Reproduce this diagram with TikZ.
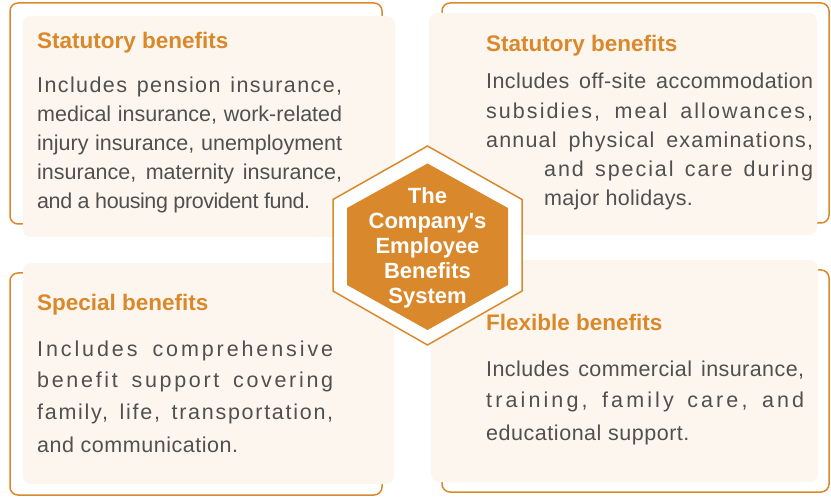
\documentclass[tikz,border=0pt]{standalone}
\usepackage{fontspec}
\setmainfont{Liberation Sans}
\definecolor{org}{HTML}{D9892B}
\definecolor{boxbg}{HTML}{FDF6EF}
\definecolor{txt}{HTML}{505050}
\newcommand{\jl}[3]{\makebox[#1][s]{\addfontfeature{LetterSpace=#2}#3}}
\newcommand{\ls}[2]{{\addfontfeature{LetterSpace=#1}#2}}
\begin{document}
\begin{tikzpicture}[x=1pt,y=-1pt,
  outl/.style={draw=org,line width=1.5pt,rounded corners=8pt},
  bgbox/.style={fill=boxbg,rounded corners=8pt},
  ttl/.style={anchor=base west,inner sep=0pt,text=org,font=\bfseries\fontsize{22.5}{26}\selectfont},
  bodyl/.style={anchor=base west,inner sep=0pt,text=txt,font=\fontsize{21.5}{29}\selectfont},
  hexout/.style={fill=white,draw=org,line width=1.5pt},
  hexin/.style={fill=org},
  hextxt/.style={text=white,align=center,inner sep=0pt,font=\bfseries\fontsize{22}{25}\selectfont}]
\useasboundingbox (0,0) rectangle (831,497);
% outlines
\draw[outl] (10,3) rectangle (382,224);
\draw[outl] (442,3) rectangle (829,223);
\draw[outl] (10,273) rectangle (382,495);
\draw[outl] (442,270) rectangle (829,492);
% filled boxes
\fill[bgbox] (23,16) rectangle (395,237);
\fill[bgbox] (429,13) rectangle (817,235);
\fill[bgbox] (23,263) rectangle (394,484);
\fill[bgbox] (431,260) rectangle (818,482);
% hexagon
\draw[hexout] (427.5,146) -- (522,199.5) -- (522,291) -- (427.5,345) -- (333,291) -- (333,199.5) -- cycle;
\fill[hexin] (427.5,163.5) -- (508,208) -- (508,285) -- (427.5,330) -- (347,285) -- (347,208) -- cycle;
\node[hextxt] (hex) at (427.5,247.5) {The\\Company\textquotesingle s\\Employee\\Benefits\\System};
% top left
\node[ttl] (tlt) at (37,49) {Statutory benefits};
\node[bodyl] (tl1) at (37,92.5) {\jl{305pt}{6.5}{Includes pension insurance,}};
\node[bodyl] (tl2) at (37,121.5) {\jl{305pt}{0}{medical insurance, work-related}};
\node[bodyl] (tl3) at (37,150.5) {\jl{305pt}{0}{injury insurance, unemployment}};
\node[bodyl] (tl4) at (37,179.5) {\jl{305pt}{0}{insurance, maternity insurance,}};
\node[bodyl] (tl5) at (37,208.5) {\ls{-2}{and a housing provident fund.}};
% top right
\node[ttl] (trt) at (486,51.5) {Statutory benefits};
\node[bodyl] (tr1) at (486,89) {\jl{327pt}{2}{Includes off-site accommodation}};
\node[bodyl] (tr2) at (486,119) {\jl{327pt}{9.5}{subsidies, meal allowances,}};
\node[bodyl] (tr3) at (486,147.5) {\jl{327pt}{5.5}{annual physical examinations,}};
\node[bodyl] (tr4) at (544,177) {\jl{269pt}{9}{and special care during}};
\node[bodyl] (tr5) at (544,206) {\ls{1.5}{major holidays.}};
% bottom left
\node[ttl] (blt) at (37,310.5) {Special benefits};
\node[bodyl] (bl1) at (37,356.5) {\jl{296pt}{13.5}{Includes comprehensive}};
\node[bodyl] (bl2) at (37,387.5) {\jl{296pt}{12.5}{benefit support covering}};
\node[bodyl] (bl3) at (37,420) {\jl{296pt}{8}{family, life, transportation,}};
\node[bodyl] (bl4) at (37,452) {\ls{2.5}{and communication.}};
% bottom right
\node[ttl] (brt) at (486,331) {Flexible benefits};
\node[bodyl] (br1) at (486,376.5) {\jl{318pt}{2}{Includes commercial insurance,}};
\node[bodyl] (br2) at (486,407.5) {\jl{318pt}{14.5}{training, family care, and}};
\node[bodyl] (br3) at (486,440) {\ls{2.5}{educational support.}};
\end{tikzpicture}
\end{document}
